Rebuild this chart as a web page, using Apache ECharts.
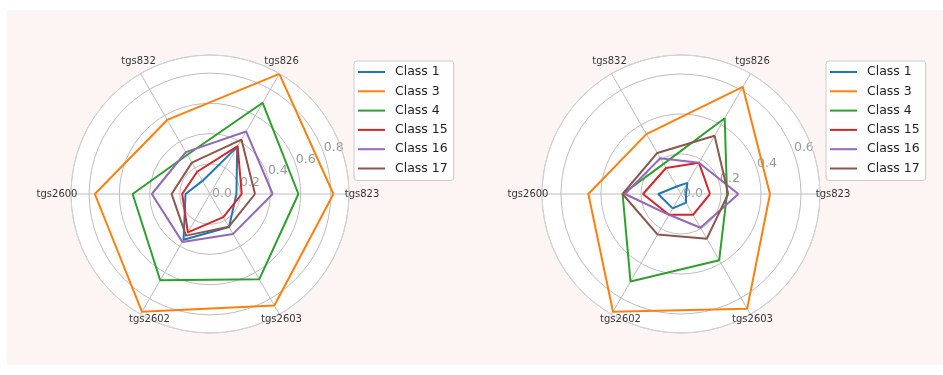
<!DOCTYPE html>
<html>
<head>
<meta charset="utf-8">
<script src="https://cdn.jsdelivr.net/npm/echarts@6/dist/echarts.min.js"></script>
<style>
  html, body { margin: 0; padding: 0; background: #ffffff; }
  #panel { position: absolute; left: 7px; top: 10px; width: 936px; height: 355px; background: #fdf4f4; }
  #chart { position: absolute; left: 0; top: 0; width: 943px; height: 375px; }
</style>
</head>
<body>
<div id="panel"></div>
<div id="chart"></div>
<script>
// Sensor channels, counter-clockwise from the right
const sensors = ['tgs823', 'tgs826', 'tgs832', 'tgs2600', 'tgs2602', 'tgs2603'];
const classNames = ['Class 1', 'Class 3', 'Class 4', 'Class 15', 'Class 16', 'Class 17'];
const classColors = ['#1f77b4', '#ff7f0e', '#2ca02c', '#d62728', '#9467bd', '#8c564b'];

// Left panel: per-sensor response for each class
const leftClass1  = [0.175, 0.360, 0.100, 0.162, 0.350, 0.252];
const leftClass3  = [0.817, 0.918, 0.566, 0.762, 0.900, 0.852];
const leftClass4  = [0.585, 0.697, 0.300, 0.512, 0.659, 0.652];
const leftClass15 = [0.210, 0.366, 0.170, 0.184, 0.293, 0.177];
const leftClass16 = [0.415, 0.478, 0.320, 0.385, 0.366, 0.305];
const leftClass17 = [0.298, 0.416, 0.240, 0.254, 0.318, 0.250];

// Right panel
const rightClass1  = [0.025, 0.064, 0.043, 0.114, 0.083, 0.050];
const rightClass3  = [0.445, 0.618, 0.346, 0.463, 0.680, 0.662];
const rightClass4  = [0.230, 0.437, 0.174, 0.292, 0.505, 0.382];
const rightClass15 = [0.145, 0.180, 0.150, 0.190, 0.120, 0.120];
const rightClass16 = [0.287, 0.180, 0.207, 0.280, 0.120, 0.195];
const rightClass17 = [0.236, 0.336, 0.237, 0.292, 0.234, 0.258];

// Radial extent of each panel
const leftMax = 0.92;
const rightMax = 0.695;
const radialStep = 0.2;

const leftData = [leftClass1, leftClass3, leftClass4, leftClass15, leftClass16, leftClass17];
const rightData = [rightClass1, rightClass3, rightClass4, rightClass15, rightClass16, rightClass17];

const FONT = 'DejaVu Sans';
const stepDeg = 360 / sensors.length;
const gridColor = '#bdbdbd';

// label nudges for the sensor names around the rim
const nameOffsets = [[13, 0], [2, -12], [-2, -12], [-14, 0], [9, 5], [2, 5]];

function closedRing(values) {
  const pts = values.map((v, i) => [v, i * stepDeg]);
  pts.push([values[0], 360]);
  return pts;
}

// grid rings, spokes and rim of a panel
function dataPolarAxes(polarIndex, rMax) {
  return {
    angle: {
      polarIndex, type: 'value', min: 0, max: 360, interval: stepDeg,
      startAngle: 0, clockwise: false, z: 2,
      axisLine: { show: true, lineStyle: { color: '#d4d4d4', width: 1 } },
      axisTick: { show: false }, axisLabel: { show: false },
      splitLine: { show: true, lineStyle: { color: gridColor, width: 1 } }
    },
    radius: {
      polarIndex, type: 'value', min: 0, max: rMax, interval: radialStep, z: 2,
      axisLine: { show: false }, axisTick: { show: false }, axisLabel: { show: false },
      splitLine: { show: true, lineStyle: { color: gridColor, width: 1 } }
    }
  };
}

// second polar system: white face plus the radial tick labels at 22.5 degrees
function labelPolarAxes(polarIndex, rMax) {
  return {
    angle: { polarIndex, type: 'value', min: 0, max: 360, startAngle: 22.5, clockwise: false, show: false },
    radius: {
      polarIndex, type: 'value', min: 0, max: rMax, interval: radialStep, z: 0,
      axisLine: { show: false }, axisTick: { show: false }, splitLine: { show: false },
      splitArea: { show: true, areaStyle: { color: ['#ffffff'] } },
      axisLabel: {
        show: true, margin: 0, align: 'center', verticalAlign: 'middle',
        padding: [0, 0, 10, 24],
        color: '#9a9a9a', fontSize: 12.5, fontFamily: FONT,
        formatter: v => Math.abs(v / radialStep - Math.round(v / radialStep)) < 1e-6 ? v.toFixed(1) : ''
      }
    }
  };
}

function classSeries(polarIndex, sets) {
  return sets.map((vals, k) => ({
    type: 'line', name: classNames[k], coordinateSystem: 'polar', polarIndex,
    symbol: 'none', clip: false, silent: true,
    lineStyle: { width: 2, color: classColors[k] },
    itemStyle: { color: classColors[k] },
    data: closedRing(vals), z: 3
  }));
}

function sensorNameSeries(polarIndex, rMax) {
  return {
    type: 'scatter', coordinateSystem: 'polar', polarIndex, silent: true, clip: false,
    symbol: 'circle', symbolSize: 1, itemStyle: { color: 'rgba(0,0,0,0)' },
    data: sensors.map((s, i) => ({ name: s, value: [rMax, i * stepDeg], label: { offset: nameOffsets[i] } })),
    label: { show: true, position: 'inside', formatter: '{b}', color: '#000', fontSize: 10, fontFamily: FONT },
    z: 5
  };
}

function legendAt(left) {
  return {
    data: classNames, orient: 'vertical', left, top: 61,
    padding: [4, 6, 5, 4], itemWidth: 27, itemHeight: 2, itemGap: 5.3, icon: 'rect',
    textStyle: { fontFamily: FONT, fontSize: 12.5, color: '#222', lineHeight: 14, padding: [0, 0, 0, 5] },
    backgroundColor: 'rgba(255,255,255,0.85)', borderColor: '#cccccc', borderWidth: 1, borderRadius: 3,
    selectedMode: false
  };
}

const L0 = dataPolarAxes(0, leftMax), L1 = labelPolarAxes(1, leftMax);
const R0 = dataPolarAxes(2, rightMax), R1 = labelPolarAxes(3, rightMax);

const option = {
  animation: false,
  backgroundColor: 'transparent',
  polar: [
    { center: [210, 194], radius: 139 },
    { center: [210, 194], radius: 139 },
    { center: [681, 194], radius: 139 },
    { center: [681, 194], radius: 139 }
  ],
  angleAxis: [L0.angle, L1.angle, R0.angle, R1.angle],
  radiusAxis: [L0.radius, L1.radius, R0.radius, R1.radius],
  legend: [legendAt(354), legendAt(826)],
  series: [
    ...classSeries(0, leftData),
    sensorNameSeries(0, leftMax),
    ...classSeries(2, rightData),
    sensorNameSeries(2, rightMax)
  ]
};

const chart = echarts.init(document.getElementById('chart'), null, { renderer: 'canvas' });
chart.setOption(option);
</script>
</body>
</html>
